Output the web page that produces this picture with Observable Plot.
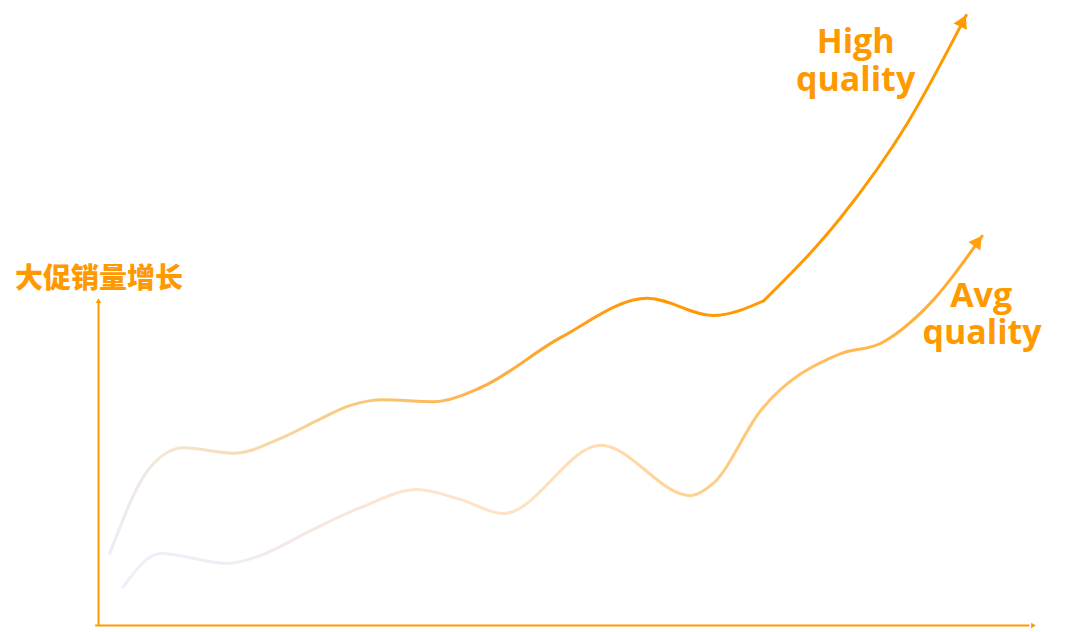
<!DOCTYPE html>
<html>
<head>
<meta charset="utf-8">
<script src="https://cdn.jsdelivr.net/npm/d3@7"></script>
<script src="https://cdn.jsdelivr.net/npm/@observablehq/plot@0.6"></script>
<style>
  html, body { margin: 0; padding: 0; background: #ffffff; }
  #chart { width: 1080px; height: 632px; overflow: hidden; }
</style>
</head>
<body>
<div id="chart"></div>
<script>
// ---- data (arbitrary units: x = time 0..100, y = sales growth 0..100) ----
// High quality: smooth wave up to a turning point, then a steep rise
const highX = [1.2, 5.5, 9.1, 14.4, 19.7, 23.3, 26.9, 30.4, 35.8, 40.8, 49.3, 58.6, 65.6, 71.0];
const highY = [11.7, 25.7, 28.9, 28.0, 30.6, 33.3, 35.8, 36.7, 36.4, 38.7, 46.8, 53.2, 50.4, 52.8];
const highRiseX = [71.0, 79.2, 86.3, 92.6];
const highRiseY = [52.8, 66.3, 81.6, 99.2];
const avgX  = [2.6, 6.6, 13.8, 17.3, 22.6, 28.0, 34.0, 38.6, 43.2, 53.6, 63.2, 65.6, 70.7, 79.2, 83.5, 88.0, 94.3];
const avgY  = [6.2, 11.7, 10.1, 11.4, 15.4, 19.2, 22.1, 20.5, 18.2, 29.3, 21.1, 23.1, 35.0, 44.2, 45.9, 51.2, 63.3];
const axisLabel = "大促销量增长";
const seriesLabels = [["High", "quality"], ["Avg", "quality"]];

// ---- layout ----
const W = 1080, H = 632, ML = 98, MR = 45, MT = 10, MB = 7;
const kx = (W - ML - MR) / 100, ky = (H - MT - MB) / 100;
const ORANGE = "#FF9900";

const high = highX.map((x, i) => ({x, y: highY[i]}));
const highRise = highRiseX.map((x, i) => ({x, y: highRiseY[i]}));
const avg = avgX.map((x, i) => ({x, y: avgY[i]}));

function head(arr, back) {
  const a = arr[arr.length - 2], b = arr[arr.length - 1];
  const dxp = (b.x - a.x) * kx, dyp = (b.y - a.y) * ky;
  const ang = Math.atan2(dxp, dyp); // radians from "up"
  return {
    x: b.x - back * Math.sin(ang) / kx,
    y: b.y - back * Math.cos(ang) / ky,
    rotate: ang * 180 / Math.PI - 3
  };
}
const hHigh = head(highRise, 8.5);
const hAvg = head(avg, 8.5);

const yTop = 53.2, xRight = 100;
const labelFont = "Open Sans";

const plot = Plot.plot({
  width: W, height: H,
  marginLeft: ML, marginRight: MR, marginTop: MT, marginBottom: MB,
  x: {domain: [0, 100], axis: null},
  y: {domain: [0, 100], axis: null},
  style: {background: "#ffffff", overflow: "visible"},
  marks: [
    // axes
    Plot.ruleX([0], {y1: 0, y2: yTop - 0.8, stroke: ORANGE, strokeWidth: 2}),
    Plot.ruleY([0], {x1: -0.3, x2: xRight - 0.6, stroke: ORANGE, strokeWidth: 2}),
    Plot.dot([{x: 0, y: yTop - 0.5}], {x: "x", y: "y", symbol: "triangle2", r: 2.6, fill: ORANGE, stroke: "none"}),
    Plot.dot([{x: xRight - 0.3, y: 0}], {x: "x", y: "y", symbol: "triangle2", r: 2.6, fill: ORANGE, stroke: "none", rotate: 90}),
    // series
    Plot.line(avg, {x: "x", y: "y", curve: "monotone-x", stroke: "url(#gAvg)", strokeWidth: 3}),
    Plot.line(high, {x: "x", y: "y", curve: "monotone-x", stroke: "url(#gHigh)", strokeWidth: 3}),
    Plot.line(highRise, {x: "x", y: "y", curve: "monotone-x", stroke: "url(#gHigh)", strokeWidth: 3}),
    Plot.dot([hHigh], {x: "x", y: "y", rotate: "rotate", symbol: "triangle2", r: 7, fill: ORANGE, stroke: "none"}),
    Plot.dot([hAvg], {x: "x", y: "y", rotate: "rotate", symbol: "triangle2", r: 7, fill: "#FFA00F", stroke: "none"}),
    // labels
    Plot.text([axisLabel], {x: -8.9, y: 56.4, text: d => d, textAnchor: "start", fill: ORANGE,
      fontSize: 28, fontWeight: 900, fontFamily: "Noto Sans CJK SC"}),
    Plot.text([seriesLabels[0][0]], {x: 80.8, y: 94.8, text: d => d, textAnchor: "middle", fill: ORANGE,
      fontSize: 34, fontWeight: 700, fontFamily: labelFont}),
    Plot.text([seriesLabels[0][1]], {x: 80.8, y: 88.7, text: d => d, textAnchor: "middle", fill: ORANGE,
      fontSize: 34, fontWeight: 700, fontFamily: labelFont}),
    Plot.text([seriesLabels[1][0]], {x: 94.2, y: 53.6, text: d => d, textAnchor: "middle", fill: ORANGE,
      fontSize: 34, fontWeight: 700, fontFamily: labelFont}),
    Plot.text([seriesLabels[1][1]], {x: 94.3, y: 47.5, text: d => d, textAnchor: "middle", fill: ORANGE,
      fontSize: 34, fontWeight: 700, fontFamily: labelFont})
  ]
});

// gradient definitions (stops along x, in data units converted through the x scale)
const px = v => ML + v * kx;
const highStops = [[1.2, "#ecebf7"], [9.1, "#f6e3cb"], [19.7, "#f8d4a0"], [26.9, "#fac97c"], [40.8, "#ffb04a"], [49.3, "#ffa020"], [60, ORANGE], [100, ORANGE]];
const avgStops = [[2.6, "#efeefc"], [13.8, "#f1ecf4"], [21.6, "#f5e7e6"], [34.4, "#fde5cc"], [43.2, "#fde3c6"], [53.6, "#ffdcb0"], [63.2, "#ffd091"], [70.7, "#ffc673"], [79.2, "#ffbb58"], [94.3, "#ffa622"]];
const svg = d3.select(plot);
const defs = svg.insert("defs", ":first-child");
function grad(id, stops) {
  const g = defs.append("linearGradient").attr("id", id).attr("gradientUnits", "userSpaceOnUse")
    .attr("x1", px(stops[0][0])).attr("x2", px(stops[stops.length - 1][0])).attr("y1", 0).attr("y2", 0);
  const x0 = stops[0][0], x1 = stops[stops.length - 1][0];
  stops.forEach(([v, c]) => g.append("stop").attr("offset", (v - x0) / (x1 - x0)).attr("stop-color", c));
}
grad("gHigh", highStops);
grad("gAvg", avgStops);

document.getElementById("chart").appendChild(plot);
</script>
</body>
</html>
